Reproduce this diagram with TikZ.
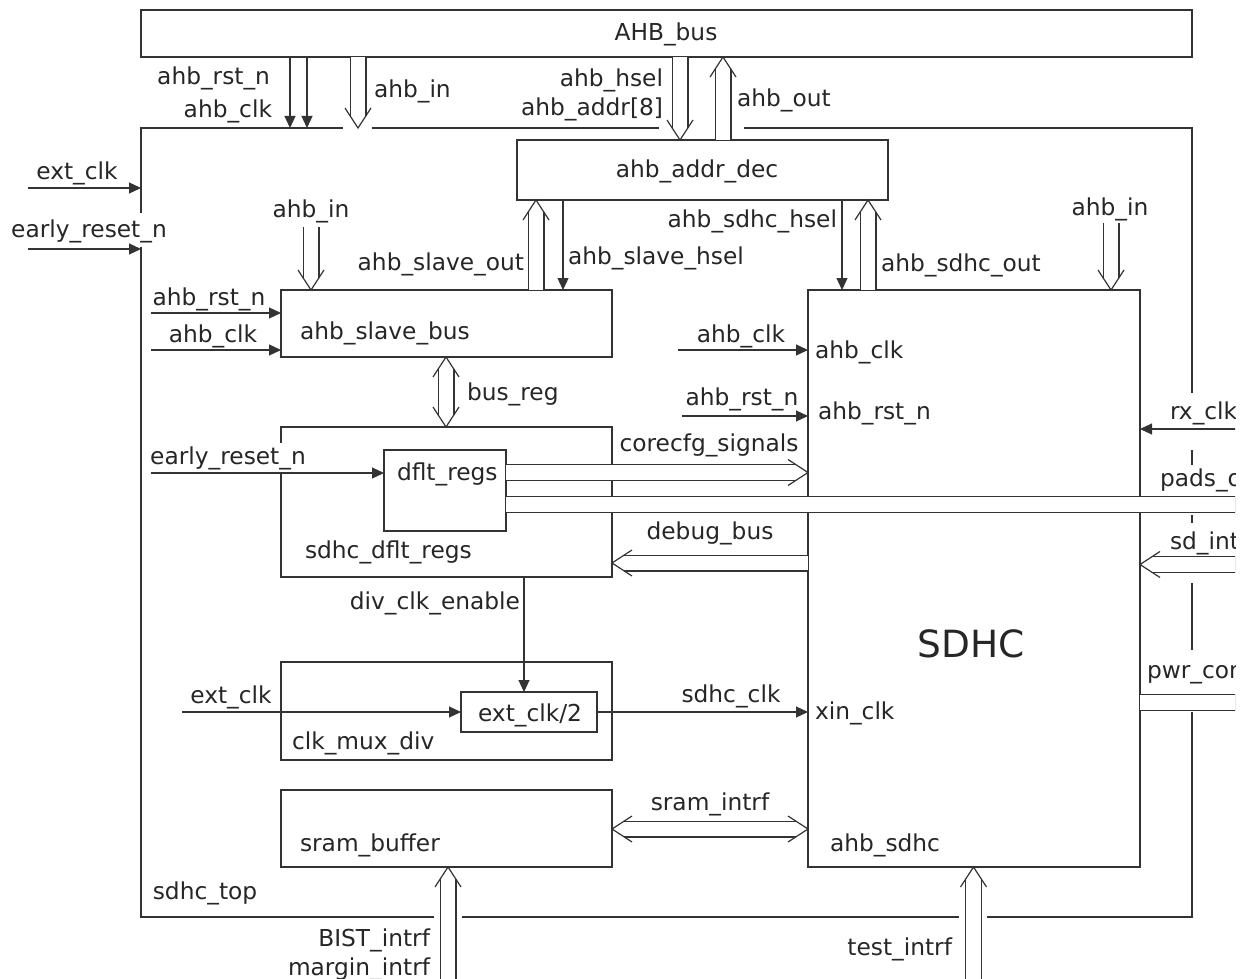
\documentclass[tikz,border=0pt]{standalone}
\usepackage{fontspec}
\setmainfont{DejaVu Sans}
\usetikzlibrary{arrows.meta,calc}
\definecolor{ln}{HTML}{333333}
\definecolor{tx}{HTML}{262626}
\newcommand\bushd[2]{\draw[vee] ($(#2)!20pt!(#1)!13pt!90:(#2)$) -- (#2) -- ($(#2)!20pt!(#1)!13pt!-90:(#2)$);}
\begin{document}
\begin{tikzpicture}[x=1pt,y=-1pt,
  every node/.style={font=\fontsize{23.3}{28}\selectfont, text=tx, inner sep=0pt, outer sep=0pt},
  box/.style={draw=ln, line width=1.2pt, anchor=north west},
  border/.style={draw=ln, line width=1.2pt},
  sig/.style={draw=ln, line width=1.2pt, -{Triangle[length=12pt,width=11pt]}},
  bus/.style={draw=ln, line width=1.2pt, double=white, double distance=14.6pt},
  vee/.style={draw=ln, line width=1.2pt, line join=miter},
  wl/.style={anchor=west},
  el/.style={anchor=east},
  bg/.style={fill=white, inner sep=3pt},
]
\useasboundingbox (0,0) rectangle (1248,979);
\begin{scope}
\clip (0,0) rectangle (1235,979);
% ---------- boxes ----------
\node[box, minimum width=1051pt, minimum height=47pt] (ahbbus) at (141,10) {};
\node[anchor=north west, minimum width=1051pt, minimum height=789pt] (top) at (141,128) {};
\draw[border] (141,213) -- (top.north west) -- (343,128);
\draw[border] (372,128) -- (659,128);
\draw[border] (744,128) -- (top.north east) -- (1192,393);
\draw[border] (1192,450) -- (1192,465);
\draw[border] (1192,515) -- (1192,523);
\draw[border] (1192,583) -- (1192,650);
\draw[border] (1192,712) -- (top.south east) -- (987,917);
\draw[border] (959,917) -- (462,917);
\draw[border] (434,917) -- (top.south west) -- (141,247);
\node[box, minimum width=371pt, minimum height=60pt] (addrdec) at (517,140) {};
\node[box, minimum width=331pt, minimum height=67pt] (slave) at (281,290) {};
\node[box, minimum width=331pt, minimum height=150pt] (dflt) at (281,427) {};
\node[box, minimum width=122pt, minimum height=81pt] (dfltregs) at (384,450) {};
\node[box, minimum width=331pt, minimum height=98pt] (clkmux) at (281,662) {};
\node[box, minimum width=136pt, minimum height=40pt] (div2) at (461,692) {};
\node[box, minimum width=331pt, minimum height=77pt] (sram) at (281,790) {};
\node[box, minimum width=332pt, minimum height=577pt] (sdhc) at (808,290) {};

% ---------- texts ----------
\begin{scope}[every node/.append style={yshift=-2pt}]
\node at (666,32) {AHB\_bus};
\node at (205,891) {sdhc\_top};
\node at (697,169) {ahb\_addr\_dec};
\node[wl] at (300,331) {ahb\_slave\_bus};
\node[wl] at (305,550) {sdhc\_dflt\_regs};
\node[wl] at (397,472) {dflt\_regs};
\node[wl] at (292,741) {clk\_mux\_div};
\node at (530,713) {ext\_clk/2};
\node[wl] at (300,843) {sram\_buffer};
\node[wl] at (815,350) {ahb\_clk};
\node[wl] at (818,411) {ahb\_rst\_n};
\node[font=\fontsize{37.5}{44}\selectfont] at (971,642) {SDHC};
\node[wl] at (815,711) {xin\_clk};
\node[wl] at (830,843) {ahb\_sdhc};
\node[el] at (270,76) {ahb\_rst\_n};
\node[el] at (272,109) {ahb\_clk};
\node[wl] at (374,89) {ahb\_in};
\node[el] at (663,78) {ahb\_hsel};
\node[el] at (663,107) {ahb\_addr[8]};
\node[wl] at (737,98) {ahb\_out};
\node at (77,171) {ext\_clk};
\node at (89,229) {early\_reset\_n};
\node at (311,209) {ahb\_in};
\node at (209,297) {ahb\_rst\_n};
\node at (213,334) {ahb\_clk};
\node[el] at (524,262) {ahb\_slave\_out};
\node[wl] at (568,256) {ahb\_slave\_hsel};
\node[el] at (837,219) {ahb\_sdhc\_hsel};
\node[wl] at (881,263) {ahb\_sdhc\_out};
\node at (1110,207) {ahb\_in};
\node[wl] at (467,392) {bus\_reg};
\node[bg] at (228,456) {early\_reset\_n};
\node at (709,443) {corecfg\_signals};
\node at (710,531) {debug\_bus};
\node[el] at (520,601) {div\_clk\_enable};
\node at (231,695) {ext\_clk};
\node at (731,694) {sdhc\_clk};
\node at (710,802) {sram\_intrf};
\node at (741,334) {ahb\_clk};
\node at (742,397) {ahb\_rst\_n};
\node[wl] at (1170,411) {rx\_clk};
\node[wl] at (1160,478) {pads\_out};
\node[wl] at (1170,541) {sd\_intrf};
\node[wl] at (1147,670) {pwr\_control};
\node[el] at (430,938) {BIST\_intrf};
\node[el] at (430,967) {margin\_intrf};
\node[el] at (952,947) {test\_intrf};
\end{scope}

% ---------- single signals ----------
\draw[sig] (290,0 |- ahbbus.south) -- (290,0 |- top.north);
\draw[sig] (307,0 |- ahbbus.south) -- (307,0 |- top.north);
\coordinate (extin) at (28,188);
\draw[sig] (extin) -- (extin -| top.west);
\coordinate (erin) at (28,249);
\draw[sig] (erin) -- (erin -| top.west);
\coordinate (rsta) at (151,313);
\draw[sig] (rsta) -- (rsta -| slave.west);
\coordinate (clka) at (151,350);
\draw[sig] (clka) -- (clka -| slave.west);
\coordinate (erb) at (151,473);
\draw[sig] (erb) -- (erb -| dfltregs.west);
\coordinate (extb) at (182,712);
\draw[sig] (extb) -- (extb -| div2.west);
\draw[sig] (div2.east) -- (div2.east -| sdhc.west);
\draw[sig] (524,0 |- dflt.south) -- (524,0 |- div2.north);
\draw[sig] (563,0 |- addrdec.south) -- (563,0 |- slave.north);
\draw[sig] (842,0 |- addrdec.south) -- (842,0 |- sdhc.north);
\coordinate (clkc) at (678,350);
\draw[sig] (clkc) -- (clkc -| sdhc.west);
\coordinate (rstc) at (682,416);
\draw[sig] (rstc) -- (rstc -| sdhc.west);
\coordinate (rxin) at (1250,429);
\draw[sig] (rxin) -- (rxin -| sdhc.east);

% ---------- buses ----------
\draw[bus, shorten >=12pt] (358,0 |- ahbbus.south) -- (358,0 |- top.north);
\bushd{358,0 |- ahbbus.south}{358,0 |- top.north}
\draw[bus, shorten >=12pt] (680,0 |- ahbbus.south) -- (680,0 |- addrdec.north);
\bushd{680,0 |- ahbbus.south}{680,0 |- addrdec.north}
\draw[bus, shorten >=12pt] (723,0 |- addrdec.north) -- (723,0 |- ahbbus.south);
\bushd{723,0 |- addrdec.north}{723,0 |- ahbbus.south}
\draw[bus, shorten >=12pt] (536,0 |- slave.north) -- (536,0 |- addrdec.south);
\bushd{536,0 |- slave.north}{536,0 |- addrdec.south}
\draw[bus, shorten >=12pt] (868,0 |- sdhc.north) -- (868,0 |- addrdec.south);
\bushd{868,0 |- sdhc.north}{868,0 |- addrdec.south}
\coordinate (ina) at (311,227);
\draw[bus, shorten >=12pt] (ina) -- (ina |- slave.north);
\bushd{ina}{ina |- slave.north}
\coordinate (inb) at (1111,223);
\draw[bus, shorten >=12pt] (inb) -- (inb |- sdhc.north);
\bushd{inb}{inb |- sdhc.north}
\draw[bus, shorten >=12pt, shorten <=12pt] (446,0 |- slave.south) -- (446,0 |- dflt.north);
\bushd{446,0 |- slave.south}{446,0 |- dflt.north}
\bushd{446,0 |- dflt.north}{446,0 |- slave.south}
\draw[bus, shorten >=12pt] (dfltregs.east |- 0,472.5) -- (sdhc.west |- 0,472.5);
\bushd{dfltregs.east |- 0,472.5}{sdhc.west |- 0,472.5}
\coordinate (padsout) at (1250,504.5);
\draw[bus] (dfltregs.east |- padsout) -- (padsout);
\draw[bus, shorten >=12pt] (sdhc.west |- 0,563) -- (dflt.east |- 0,563);
\bushd{sdhc.west |- 0,563}{dflt.east |- 0,563}
\coordinate (sdin) at (1250,564.5);
\draw[bus, shorten >=12pt] (sdin) -- (sdin -| sdhc.east);
\bushd{sdin}{sdin -| sdhc.east}
\coordinate (pwrout) at (1250,702.5);
\draw[bus] (pwrout -| sdhc.east) -- (pwrout);
\draw[bus, shorten >=12pt, shorten <=12pt] (sram.east |- 0,829) -- (sdhc.west |- 0,829);
\bushd{sram.east |- 0,829}{sdhc.west |- 0,829}
\bushd{sdhc.west |- 0,829}{sram.east |- 0,829}
\coordinate (bistin) at (448,990);
\draw[bus, shorten >=12pt] (bistin) -- (bistin |- sram.south);
\bushd{bistin}{bistin |- sram.south}
\coordinate (testin) at (973.5,990);
\draw[bus, shorten >=12pt] (testin) -- (testin |- sdhc.south);
\bushd{testin}{testin |- sdhc.south}
\end{scope}
\end{tikzpicture}
\end{document}
